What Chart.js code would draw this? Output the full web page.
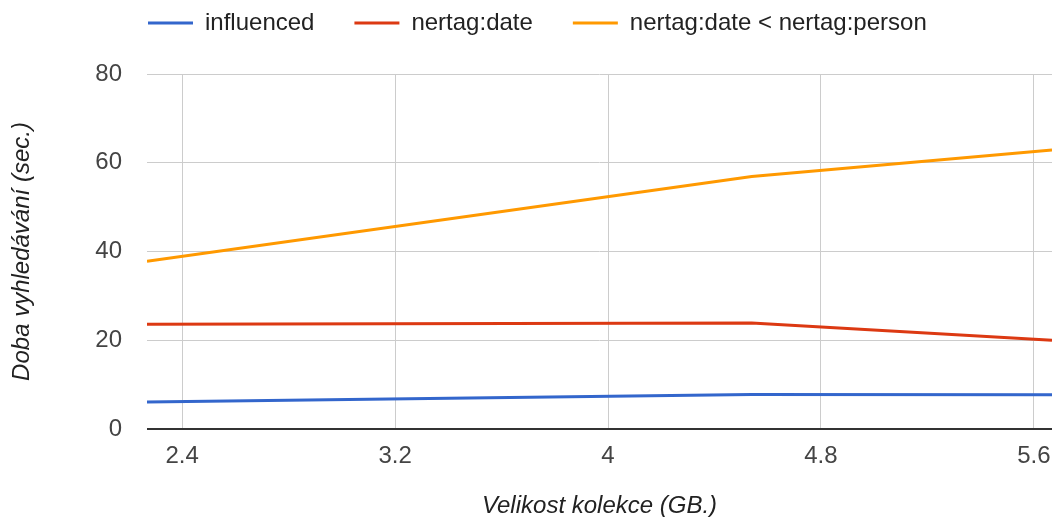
<!DOCTYPE html>
<html>
<head>
<meta charset="utf-8">
<script src="https://cdn.jsdelivr.net/npm/chart.js@4.4.0/dist/chart.umd.min.js"></script>
<style>
  html, body { margin: 0; padding: 0; background: #fff; }
</style>
</head>
<body>
<canvas id="myChart" width="1052" height="517"></canvas>
<script>
// Velikost kolekce (GB.)
const sizes = [2.268, 4.54, 5.668];
// Doba vyhledávání (sec.)
const influenced = [6.1, 7.8, 7.7];
const nertagDate = [23.6, 23.9, 20.0];
const nertagDatePerson = [37.8, 56.9, 62.9];

const xTicks = [2.4, 3.2, 4, 4.8, 5.6];
const yTicks = [0, 20, 40, 60, 80];

const toPoints = values => values.map((v, i) => ({ x: sizes[i], y: v }));

// posune legendu doleva nahoru jako v originale
const legendShift = {
    id: 'legendShift',
    beforeDraw(chart) {
        chart.legend.left = 108;
        chart.legend.top = -29;
    }
};

const ctx = document.getElementById('myChart').getContext('2d');

new Chart(ctx, {
    type: 'line',
    data: {
        datasets: [
            { label: 'influenced', data: toPoints(influenced), borderColor: '#3366cc', backgroundColor: '#3366cc', borderWidth: 3 },
            { label: 'nertag:date', data: toPoints(nertagDate), borderColor: '#dc3912', backgroundColor: '#dc3912', borderWidth: 3 },
            { label: 'nertag:date < nertag:person', data: toPoints(nertagDatePerson), borderColor: '#ff9900', backgroundColor: '#ff9900', borderWidth: 3 }
        ]
    },
    options: {
        responsive: false,
        devicePixelRatio: 1,
        animation: false,
        elements: {
            point: { radius: 0 },
            line: { tension: 0 }
        },
        layout: { padding: 0 },
        plugins: {
            tooltip: { enabled: false },
            legend: {
                position: 'top',
                align: 'start',
                labels: {
                    usePointStyle: true,
                    pointStyle: 'line',
                    pointStyleWidth: 45,
                    padding: 40,
                    color: '#222',
                    font: { family: 'Liberation Sans, Arial', size: 24 }
                }
            }
        },
        scales: {
            x: {
                type: 'linear',
                min: 2.268,
                max: 5.668,
                afterBuildTicks: scale => { scale.ticks = xTicks.map(v => ({ value: v })); },
                afterFit: scale => {
                    scale.height = 88;
                    scale.paddingLeft = 0;
                    scale.paddingRight = 0;
                },
                grid: { color: '#cccccc', drawTicks: false },
                border: { display: false },
                ticks: {
                    padding: 13,
                    color: '#444',
                    maxRotation: 0,
                    font: { family: 'Liberation Sans, Arial', size: 24 },
                    callback: v => String(v)
                },
                title: {
                    display: true,
                    text: 'Velikost kolekce (GB.)',
                    color: '#222',
                    padding: { top: 0, bottom: -4 },
                    font: { family: 'Liberation Sans, Arial', size: 24, style: 'italic' }
                }
            },
            y: {
                min: 0,
                max: 80,
                afterBuildTicks: scale => { scale.ticks = yTicks.map(v => ({ value: v })); },
                afterFit: scale => { scale.width = 147; },
                grid: {
                    drawTicks: false,
                    color: c => c.tick && c.tick.value === 0 ? '#333333' : '#cccccc',
                    lineWidth: c => c.tick && c.tick.value === 0 ? 2 : 1
                },
                border: { display: false },
                ticks: {
                    padding: 25,
                    color: '#444',
                    font: { family: 'Liberation Sans, Arial', size: 24 }
                },
                title: {
                    display: true,
                    text: 'Doba vyhledávání (sec.)',
                    color: '#222',
                    padding: { top: 8, bottom: 0 },
                    font: { family: 'Liberation Sans, Arial', size: 24, style: 'italic' }
                }
            }
        }
    },
    plugins: [legendShift]
});
</script>
</body>
</html>
